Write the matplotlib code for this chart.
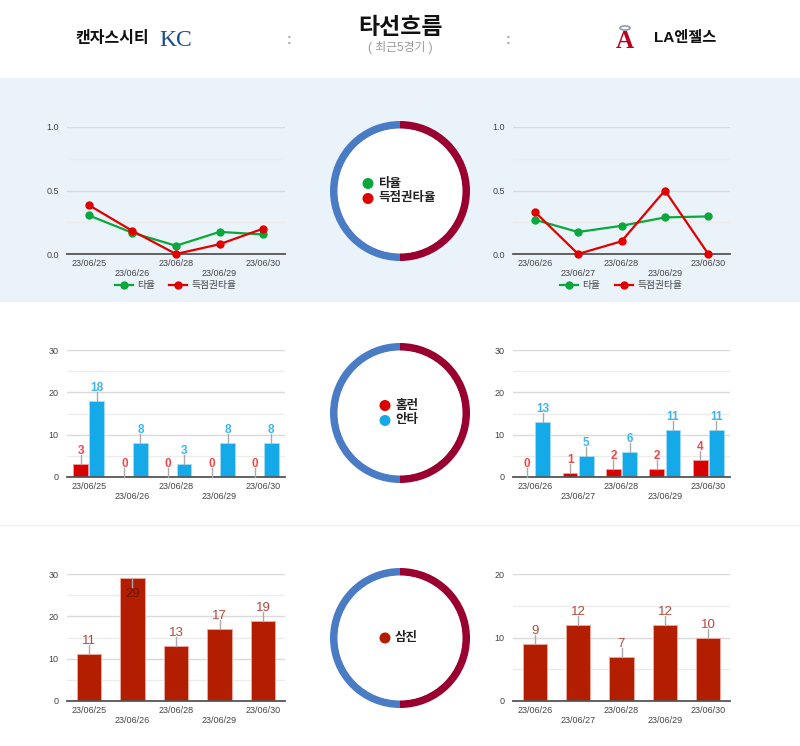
import matplotlib
matplotlib.use('Agg')
import matplotlib.pyplot as plt
from matplotlib.patches import Rectangle, Wedge, Circle, Ellipse
from matplotlib.lines import Line2D
import numpy as np

plt.rcParams['font.family'] = ['Liberation Sans', 'Noto Sans CJK KR', 'DejaVu Sans']

# ---------------- data ----------------
team_left = '캔자스시티'
team_right = 'LA엔젤스'
title = '타선흐름'
subtitle = '( 최근5경기 )'

kc_dates = ['23/06/25', '23/06/26', '23/06/28', '23/06/29', '23/06/30']
laa_dates = ['23/06/26', '23/06/27', '23/06/28', '23/06/29', '23/06/30']

line_names = ['타율', '득점권타율']
kc_avg = [0.304, 0.167, 0.065, 0.174, 0.154]
kc_risp = [0.385, 0.182, 0.0, 0.077, 0.200]
laa_avg = [0.270, 0.173, 0.222, 0.288, 0.296]
laa_risp = [0.333, 0.0, 0.100, 0.500, 0.0]

bar_names = ['홈런', '안타']
kc_hr = [3, 0, 0, 0, 0]
kc_hits = [18, 8, 3, 8, 8]
laa_hr = [0, 1, 2, 2, 4]
laa_hits = [13, 5, 6, 11, 11]

so_name = '삼진'
kc_so = [11, 29, 13, 17, 19]
laa_so = [9, 12, 7, 12, 10]

# ---------------- styles ----------------
GREEN = '#0aa83c'
RED = '#e00000'
HR_RED = '#d80000'
BLUE = '#14a9e8'
SO_RED = '#b31d00'
DONUT_BLUE = '#4a7cc6'
DONUT_RED = '#990030'
PLOT_H = 127.0  # pixel height of each plot area

W, H = 800, 746
fig = plt.figure(figsize=(8, 7.46), dpi=100)


def ax_px(x0, y0, x1, y1, **kw):
    return fig.add_axes([x0 / W, 1 - y1 / H, (x1 - x0) / W, (y1 - y0) / H], **kw)


bg = ax_px(0, 0, W, H, zorder=0)
bg.set_xlim(0, W)
bg.set_ylim(H, 0)
bg.axis('off')
bg.add_patch(Rectangle((0, 78), W, 224, color='#eaf2fa', lw=0))
bg.plot([0, W], [525, 525], color='#eeeeee', lw=1)

# ---------------- header ----------------
bg.text(75, 38, team_left, fontsize=11.5, fontweight='bold', color='#111', ha='left', va='center')
bg.text(176, 40, 'KC', fontsize=17, family='Liberation Serif', color='#1b4d8a', ha='center', va='center')
bg.text(400, 27, title, fontsize=16.5, fontweight='bold', color='#111', ha='center', va='center')
bg.text(400, 47, subtitle, fontsize=8.5, color='#999', ha='center', va='center')
bg.text(289, 40, ':', fontsize=10, fontweight='bold', color='#aaa', ha='center', va='center')
bg.text(508, 40, ':', fontsize=10, fontweight='bold', color='#aaa', ha='center', va='center')
bg.add_patch(Ellipse((625, 28), 10, 4, fill=False, ec='#8a9bb0', lw=1.2))
bg.text(625, 42, 'A', fontsize=18, fontweight='bold', family='Liberation Serif', color='#ba0021',
        ha='center', va='center')
bg.text(654, 38, team_right, fontsize=11, fontweight='bold', color='#111', ha='left', va='center')


# ---------------- helpers ----------------
def setup(ax, dates, ymax, major, minor, fmt):
    ax.set_facecolor('none')
    ax.set_xlim(-0.5, len(dates) - 0.5)
    ax.set_ylim(0, ymax)
    ax.set_yticks(major)
    ax.set_yticks(minor, minor=True)
    ax.set_yticklabels([fmt(v) for v in major])
    ax.grid(True, which='major', axis='y', color='#dadada', lw=1)
    ax.grid(True, which='minor', axis='y', color='#ececec', lw=1)
    ax.set_axisbelow(True)
    for s in ax.spines.values():
        s.set_visible(False)
    ax.axhline(0, color='#555', lw=1.3, zorder=3, clip_on=False)
    ax.set_xticks(range(len(dates)))
    ax.set_xticklabels([d if i % 2 == 0 else '\n' + d for i, d in enumerate(dates)])
    ax.tick_params(axis='both', which='both', length=0, labelsize=6.5, labelcolor='#444')
    ax.tick_params(axis='x', pad=3.5)
    ax.tick_params(axis='y', pad=6)


def label(ax, x, v, ymax, color, size, weight, down=False, tcolor=None):
    px = ymax / PLOT_H
    sgn = -1 if down else 1
    ax.plot([x, x], [v, v + sgn * 9 * px], color='#aaaaaa', lw=1, zorder=5, clip_on=False)
    ty = v + sgn * 10 * px
    ax.text(x, ty, str(v), ha='center', va='top' if down else 'baseline',
            fontsize=size, fontweight=weight, color=tcolor or color, zorder=6, clip_on=False)


def line_chart(rect, dates, avg, risp):
    ax = ax_px(*rect)
    setup(ax, dates, 1.0, [0, 0.5, 1.0], [0.25, 0.75], lambda v: f'{v:.1f}')
    x = np.arange(len(dates))
    ax.plot(x, avg, color=GREEN, lw=1.6, marker='o', ms=5, clip_on=False, zorder=4)
    ax.plot(x, risp, color=RED, lw=1.6, marker='o', ms=5, clip_on=False, zorder=5)
    return ax


def hr_chart(rect, dates, hr, hits):
    ax = ax_px(*rect)
    setup(ax, dates, 30, [0, 10, 20, 30], [5, 15, 25], lambda v: f'{v:g}')
    x = np.arange(len(dates))
    w, off = 0.34, 0.185
    ax.bar(x - off, hr, w, color=HR_RED, edgecolor='#f2a0a0', lw=0.6, zorder=2)
    ax.bar(x + off, hits, w, color=BLUE, edgecolor='#a8dcf5', lw=0.6, zorder=2)
    for xi, v in zip(x - off, hr):
        label(ax, xi, v, 30, '#f04848', 8.5, 'bold')
    for xi, v in zip(x + off, hits):
        label(ax, xi, v, 30, '#3db6ef', 8.5, 'bold')
    return ax


def so_chart(rect, dates, so, ymax, major, minor):
    ax = ax_px(*rect)
    setup(ax, dates, ymax, major, minor, lambda v: f'{v:g}')
    x = np.arange(len(dates))
    ax.bar(x, so, 0.56, color=SO_RED, edgecolor='#eba99c', lw=0.7, zorder=2)
    for xi, v in zip(x, so):
        down = v > ymax * 0.9
        label(ax, xi, v, ymax, '#b8463a', 9.5, 'normal', down=down,
              tcolor='#6e1608' if down else '#b8463a')
    return ax


# ---------------- charts ----------------
line_chart((67, 127, 285, 254), kc_dates, kc_avg, kc_risp)
line_chart((513, 127, 730, 254), laa_dates, laa_avg, laa_risp)

hr_chart((67, 350, 285, 477), kc_dates, kc_hr, kc_hits)
hr_chart((513, 350, 730, 477), laa_dates, laa_hr, laa_hits)

so_chart((67, 574, 285, 701), kc_dates, kc_so, 30, [0, 10, 20, 30], [5, 15, 25])
so_chart((513, 574, 730, 701), laa_dates, laa_so, 20, [0, 10, 20], [5, 15])

# ---------------- line legends ----------------
for gx, rx in [(115, 169), (560, 615)]:
    for x0, col, name in [(gx, GREEN, line_names[0]), (rx, RED, line_names[1])]:
        bg.add_line(Line2D([x0, x0 + 18], [285, 285], color=col, lw=1.6))
        bg.add_line(Line2D([x0 + 9], [285], color=col, marker='o', ms=5))
        bg.text(x0 + 22, 285, name, fontsize=7, color='#444', ha='left', va='center')

# ---------------- donuts ----------------
def donut(cy, items, lx):
    bg.add_patch(Wedge((400, cy), 70, 90, 270, width=8, color=DONUT_BLUE, lw=0))
    bg.add_patch(Wedge((400, cy), 70, -90, 90, width=8, color=DONUT_RED, lw=0))
    bg.add_patch(Circle((400, cy), 62.5, color='white', lw=0))
    n = len(items)
    for i, (name, col) in enumerate(items):
        yy = cy + (i - (n - 1) / 2) * 15
        bg.add_patch(Circle((lx, yy), 5.5, color=col, lw=0))
        bg.text(lx + 10, yy, name, fontsize=9, fontweight='bold', color='#222',
                ha='left', va='center')


donut(191, [(line_names[0], GREEN), (line_names[1], RED)], 368)
donut(413, [(bar_names[0], HR_RED), (bar_names[1], BLUE)], 385)
donut(638, [(so_name, SO_RED)], 385)

fig.savefig('out.png', dpi=100)
